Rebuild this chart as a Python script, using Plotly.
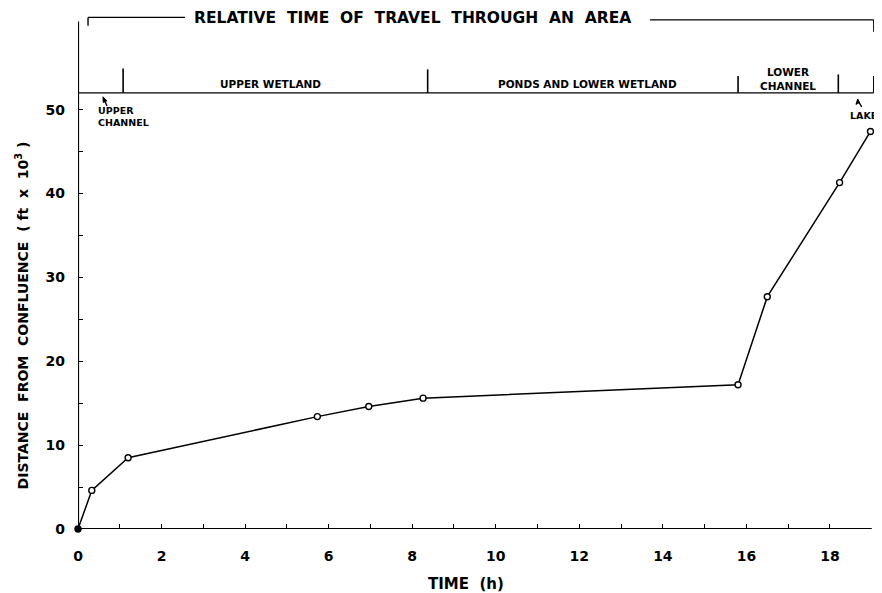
import plotly.graph_objects as go

# Data
time_h = [0.0, 0.33, 1.2, 5.73, 6.96, 8.26, 15.8, 16.5, 18.23, 18.97]
distance_kft = [0.0, 4.6, 8.5, 13.4, 14.6, 15.6, 17.2, 27.7, 41.3, 47.4]

x_ticks = [0, 2, 4, 6, 8, 10, 12, 14, 16, 18]
y_ticks = [0, 10, 20, 30, 40, 50]

# Zone boundaries (h) along the "relative time of travel" bar
zone_bounds = [1.08, 8.37, 15.8, 18.2, 19.05]
zone_names = ["UPPER WETLAND", "PONDS AND LOWER WETLAND", "LOWER<br>CHANNEL"]
zone_label_x = [4.6, 12.2, 17.0]
zone_label_y = [53.1, 53.1, 53.7]

FONT = "DejaVu Sans"
BLK = "black"


def f(size, bold=True):
    return dict(family=FONT, size=size, color=BLK, weight="bold" if bold else "normal")


fill = ["black"] + ["white"] * (len(time_h) - 1)

fig = go.Figure()
fig.add_trace(go.Scatter(
    x=time_h, y=distance_kft, mode="lines+markers",
    line=dict(color=BLK, width=1.5),
    marker=dict(symbol="circle", size=6, color=fill, line=dict(width=1.4, color=BLK)),
    cliponaxis=False, showlegend=False,
))

shapes = []
# axis lines
shapes.append(dict(type="line", xref="x", yref="y", x0=0, x1=19, y0=0, y1=0,
                   line=dict(color=BLK, width=2.2)))
shapes.append(dict(type="line", xref="x", yref="y", x0=0, x1=0, y0=0, y1=60.5,
                   line=dict(color=BLK, width=2.2)))
# zone bar baseline
shapes.append(dict(type="line", xref="x", yref="y", x0=0, x1=19.05, y0=52, y1=52,
                   line=dict(color=BLK, width=1.4)))
seps_top = [54.9, 54.8, 54.0, 54.2, 54.0]
for b, t in zip(zone_bounds, seps_top):
    shapes.append(dict(type="line", xref="x", yref="y", x0=b, x1=b, y0=52, y1=t,
                       line=dict(color=BLK, width=1.6)))
# bracket for title
shapes.append(dict(type="line", xref="x", yref="y", x0=0.24, x1=2.56, y0=61.0, y1=61.0,
                   line=dict(color=BLK, width=1.4)))
shapes.append(dict(type="line", xref="x", yref="y", x0=13.69, x1=19.05, y0=60.7, y1=60.7,
                   line=dict(color=BLK, width=1.4)))
shapes.append(dict(type="line", xref="x", yref="y", x0=0.24, x1=0.24, y0=61.0, y1=60.0,
                   line=dict(color=BLK, width=1.4)))
shapes.append(dict(type="line", xref="x", yref="y", x0=19.05, x1=19.05, y0=60.7, y1=59.3,
                   line=dict(color=BLK, width=1.4)))
# small pointer arrows (shaft + head)
shapes.append(dict(type="line", xref="x", yref="y", x0=0.694, y0=50.43, x1=0.62, y1=51.3,
                   line=dict(color=BLK, width=1.4)))
shapes.append(dict(type="path", xref="x", yref="y",
                   path="M 0.598 51.53 L 0.691 51.05 L 0.604 50.86 Z",
                   fillcolor=BLK, line=dict(color=BLK, width=1)))
shapes.append(dict(type="line", xref="x", yref="y", x0=18.76, y0=50.32, x1=18.68, y1=51.0,
                   line=dict(color=BLK, width=1.4)))
shapes.append(dict(type="path", xref="x", yref="y",
                   path="M 18.665 51.27 L 18.708 50.84 L 18.623 50.63 Z",
                   fillcolor=BLK, line=dict(color=BLK, width=1)))

annotations = []
annotations.append(dict(x=8.0, y=60.9, xref="x", yref="y", showarrow=False,
                        text="RELATIVE  TIME  OF  TRAVEL  THROUGH  AN  AREA",
                        font=f(15.5), xanchor="center", yanchor="middle"))
for name, lx, ly in zip(zone_names, zone_label_x, zone_label_y):
    annotations.append(dict(x=lx, y=ly, xref="x", yref="y", showarrow=False, text=name,
                            font=f(10.5), xanchor="center", yanchor="middle"))
annotations.append(dict(x=0.42, y=49.2, xref="x", yref="y", showarrow=False, text="UPPER<br>CHANNEL",
                        align="left", xanchor="left", yanchor="middle", font=f(9.5)))
annotations.append(dict(x=18.42, y=49.3, xref="x", yref="y", showarrow=False, text="LAKE",
                        xanchor="left", yanchor="middle", font=f(9.5)))
# axis titles
annotations.append(dict(x=-0.0705, y=0.41, xref="paper", yref="paper", showarrow=False,
                        text="DISTANCE  FROM  CONFLUENCE  ( ft  x  10<sup>3</sup> )", textangle=-90,
                        font=f(14), xanchor="center", yanchor="middle"))
annotations.append(dict(x=0.485, y=-0.106, xref="paper", yref="paper", showarrow=False,
                        text="TIME  (h)", font=f(15), xanchor="center", yanchor="middle"))

fig.update_layout(
    width=874, height=585,
    margin=dict(l=70, r=4, t=1, b=64),
    paper_bgcolor="white", plot_bgcolor="white",
    shapes=shapes, annotations=annotations,
    font=dict(family=FONT, color=BLK),
)
fig.update_xaxes(range=[0, 19.15], tickvals=x_ticks, ticktext=[str(v) for v in x_ticks],
                 showgrid=False, zeroline=False, showline=False,
                 ticks="inside", ticklen=5, tickwidth=1.4, tickcolor=BLK,
                 minor=dict(tickvals=[1, 3, 5, 7, 9, 11, 13, 15, 17], ticks="inside", ticklen=5,
                            tickwidth=1.4, tickcolor=BLK),
                 tickfont=f(14), ticklabelstandoff=17)
fig.update_yaxes(range=[0, 62], tickvals=y_ticks, ticktext=[str(v) for v in y_ticks],
                 showgrid=False, zeroline=False, showline=False,
                 ticks="inside", ticklen=5, tickwidth=1.4, tickcolor=BLK,
                 minor=dict(tickvals=[5, 15, 25, 35, 45], ticks="inside", ticklen=5, tickwidth=1.4, tickcolor=BLK),
                 tickfont=f(14), ticklabelstandoff=12)

fig.write_html("out.html")
